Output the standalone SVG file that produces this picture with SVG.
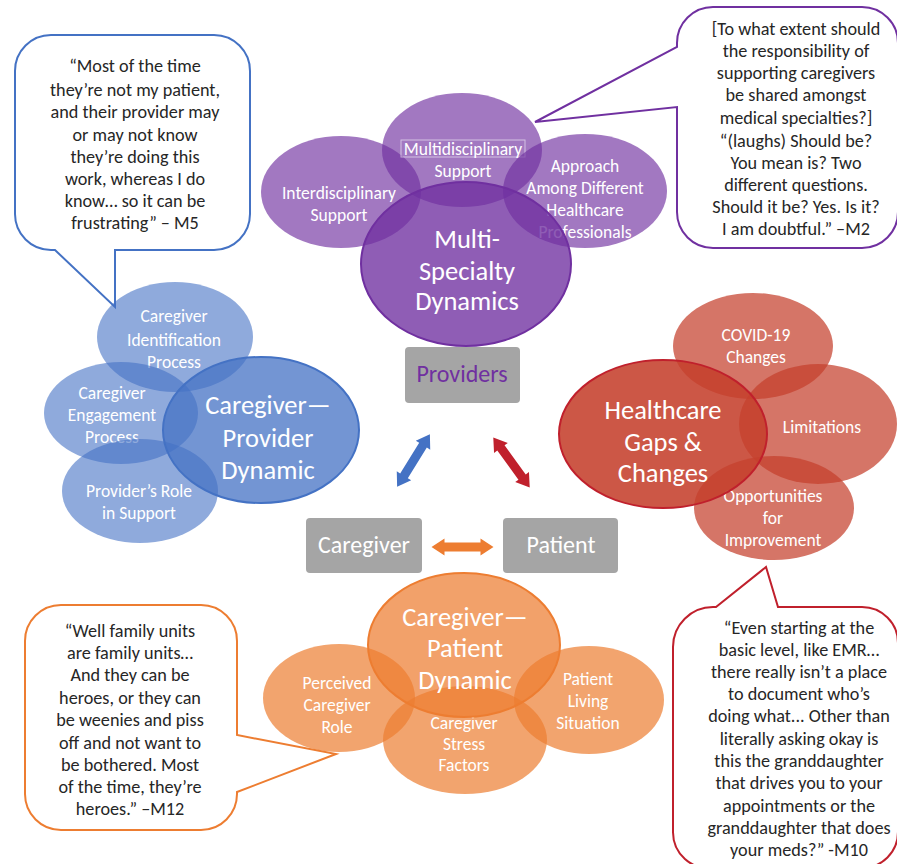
<svg xmlns="http://www.w3.org/2000/svg" width="897" height="864" viewBox="0 0 897 864">
<style>
text{font-family:"Carlito","Lato","Liberation Sans",sans-serif;text-anchor:middle}
.q{font-size:18.2px;fill:#262626}
.s{font-size:17.5px;fill:#fff}
.m{font-size:26.5px;fill:#fff}
.b{font-size:24px;fill:#fff}
.cb{fill:#fff;stroke-width:2;stroke-linejoin:miter}
.pu{fill:#7030A0;fill-opacity:.65}
.pum{fill:#7030A0;fill-opacity:.78;stroke:#7030A0;stroke-width:2}
.bl{fill:#4472C4;fill-opacity:.6}
.blm{fill:#4472C4;fill-opacity:.75;stroke:#4472C4;stroke-width:2}
.rd{fill:#C5402C;fill-opacity:.72}
.rdm{fill:#C5402C;fill-opacity:.88;stroke:#C0202C;stroke-width:2}
.or{fill:#ED7D31;fill-opacity:.7}
.orm{fill:#ED7D31;fill-opacity:.72;stroke:#ED7D31;stroke-width:2}
.box{fill:#A5A5A5}
</style>
<defs>
<polygon id="dbl" points="-31,0 -18,-8.5 -18,-4.5 18,-4.5 18,-8.5 31,0 18,8.5 18,4.5 -18,4.5 -18,8.5"/>
</defs>

<g id="callout-m5">
<path class="cb" stroke="#4472C4" d="M51,35 H214 A36,36 0 0 1 250,71 V214 A36,36 0 0 1 214,250 H115 L115,307 L55,250 H51 A36,36 0 0 1 15,214 V71 A36,36 0 0 1 51,35 Z"/>
<text class="q" x="135" y="72">“Most of the time</text>
<text class="q" x="135" y="96">they’re not my patient,</text>
<text class="q" x="135" y="118">and their provider may</text>
<text class="q" x="135" y="141">or may not know</text>
<text class="q" x="135" y="163">they’re doing this</text>
<text class="q" x="135" y="185">work, whereas I do</text>
<text class="q" x="135" y="207">know… so it can be</text>
<text class="q" x="135" y="229">frustrating” – M5</text>
</g>

<g id="callout-m2">
<path class="cb" stroke="#7030A0" d="M713,7 H862 A36,36 0 0 1 898,43 V212 A36,36 0 0 1 862,248 H713 A36,36 0 0 1 677,212 V107 L535,122 L677,47 V43 A36,36 0 0 1 713,7 Z"/>
<text class="q" x="796" y="35">[To what extent should</text>
<text class="q" x="796" y="57">the responsibility of</text>
<text class="q" x="796" y="79">supporting caregivers</text>
<text class="q" x="796" y="101">be shared amongst</text>
<text class="q" x="796" y="124">medical specialties?]</text>
<text class="q" x="796" y="147">“(laughs) Should be?</text>
<text class="q" x="796" y="169">You mean is? Two</text>
<text class="q" x="796" y="191">different questions.</text>
<text class="q" x="796" y="213">Should it be? Yes. Is it?</text>
<text class="q" x="796" y="235">I am doubtful.” –M2</text>
</g>

<g id="callout-m12">
<path class="cb" stroke="#ED7D31" d="M61,605 H201 A36,36 0 0 1 237,641 V735 L336,754 L237,792 V794 A36,36 0 0 1 201,830 H61 A36,36 0 0 1 25,794 V641 A36,36 0 0 1 61,605 Z"/>
<text class="q" x="130" y="637">“Well family units</text>
<text class="q" x="130" y="659">are family units…</text>
<text class="q" x="130" y="681">And they can be</text>
<text class="q" x="130" y="704">heroes, or they can</text>
<text class="q" x="130" y="726">be weenies and piss</text>
<text class="q" x="130" y="749">off and not want to</text>
<text class="q" x="130" y="771">be bothered. Most</text>
<text class="q" x="130" y="793">of the time, they’re</text>
<text class="q" x="130" y="815">heroes.” –M12</text>
</g>

<g id="callout-m10">
<path class="cb" stroke="#C0202C" d="M713,607 H716 L766,567 L778,607 H862 A36,36 0 0 1 898,643 V832 A36,36 0 0 1 862,868 H713 A36,36 0 0 1 673,832 V647 A40,40 0 0 1 713,607 Z"/>
<text class="q" x="799" y="634">“Even starting at the</text>
<text class="q" x="799" y="656">basic level, like EMR…</text>
<text class="q" x="799" y="678">there really isn’t a place</text>
<text class="q" x="799" y="700">to document who’s</text>
<text class="q" x="799" y="722">doing what... Other than</text>
<text class="q" x="799" y="745">literally asking okay is</text>
<text class="q" x="799" y="767">this the granddaughter</text>
<text class="q" x="799" y="789">that drives you to your</text>
<text class="q" x="799" y="812">appointments or the</text>
<text class="q" x="799" y="834">granddaughter that does</text>
<text class="q" x="799" y="856">your meds?” -M10</text>
</g>

<g id="interdisciplinary-support">
<ellipse class="pu" cx="341" cy="192" rx="80" ry="56"/>
<text class="s" x="339" y="199">Interdisciplinary</text>
<text class="s" x="339" y="221">Support</text>
</g>
<g id="multidisciplinary-support">
<ellipse class="pu" cx="462" cy="150" rx="80" ry="57"/>
<rect x="401" y="140" width="124" height="17" fill="none" stroke="#fff" stroke-opacity=".55" stroke-width="1"/>
<text class="s" x="463" y="155">Multidisciplinary</text>
<text class="s" x="463" y="177">Support</text>
</g>
<g id="approach-among-professionals">
<ellipse class="pu" cx="585" cy="191" rx="82" ry="57"/>
<text class="s" x="585" y="172">Approach</text>
<text class="s" x="585" y="194">Among Different</text>
<text class="s" x="585" y="216">Healthcare</text>
<text class="s" x="585" y="238">Professionals</text>
</g>
<g id="multi-specialty-dynamics">
<ellipse class="pum" cx="466" cy="264" rx="105" ry="82"/>
<text class="m" x="467" y="248">Multi-</text>
<text class="m" x="467" y="280">Specialty</text>
<text class="m" x="467" y="310">Dynamics</text>
</g>

<g id="caregiver-identification-process">
<ellipse class="bl" cx="175" cy="337" rx="78" ry="55"/>
<text class="s" x="174" y="322">Caregiver</text>
<text class="s" x="174" y="346">Identification</text>
<text class="s" x="174" y="368">Process</text>
</g>
<g id="caregiver-engagement-process">
<ellipse class="bl" cx="121" cy="413" rx="77" ry="51"/>
<text class="s" x="112" y="399">Caregiver</text>
<text class="s" x="112" y="421">Engagement</text>
<text class="s" x="112" y="443">Process</text>
</g>
<g id="providers-role-in-support">
<ellipse class="bl" cx="140" cy="491" rx="78" ry="52"/>
<text class="s" x="139" y="497">Provider’s Role</text>
<text class="s" x="139" y="519">in Support</text>
</g>
<g id="caregiver-provider-dynamic">
<ellipse class="blm" cx="261" cy="430" rx="98" ry="73"/>
<text class="m" x="268" y="414">Caregiver—</text>
<text class="m" x="268" y="447">Provider</text>
<text class="m" x="268" y="479">Dynamic</text>
</g>

<g id="covid-19-changes">
<ellipse class="rd" cx="753" cy="346" rx="80" ry="53"/>
<text class="s" x="756" y="341">COVID-19</text>
<text class="s" x="756" y="363">Changes</text>
</g>
<g id="limitations">
<ellipse class="rd" cx="818" cy="424" rx="79" ry="60"/>
<text class="s" x="822" y="433">Limitations</text>
</g>
<g id="opportunities-for-improvement">
<ellipse class="rd" cx="774" cy="508" rx="80" ry="52"/>
<text class="s" x="773" y="502">Opportunities</text>
<text class="s" x="773" y="524">for</text>
<text class="s" x="773" y="546">Improvement</text>
</g>
<g id="healthcare-gaps-changes">
<ellipse class="rdm" cx="663" cy="434" rx="104" ry="74"/>
<text class="m" x="663" y="419">Healthcare</text>
<text class="m" x="663" y="451">Gaps &amp;</text>
<text class="m" x="663" y="482">Changes</text>
</g>

<g id="perceived-caregiver-role">
<ellipse class="or" cx="339" cy="698" rx="76" ry="54"/>
<text class="s" x="337" y="689">Perceived</text>
<text class="s" x="337" y="711">Caregiver</text>
<text class="s" x="337" y="733">Role</text>
</g>
<g id="caregiver-stress-factors">
<ellipse class="or" cx="465" cy="740" rx="82" ry="54"/>
<text class="s" x="464" y="729">Caregiver</text>
<text class="s" x="464" y="750">Stress</text>
<text class="s" x="464" y="771">Factors</text>
</g>
<g id="patient-living-situation">
<ellipse class="or" cx="589" cy="700" rx="75" ry="54"/>
<text class="s" x="588" y="685">Patient</text>
<text class="s" x="588" y="707">Living</text>
<text class="s" x="588" y="729">Situation</text>
</g>
<g id="caregiver-patient-dynamic">
<ellipse class="orm" cx="464" cy="645" rx="96" ry="72"/>
<text class="m" x="465" y="626">Caregiver—</text>
<text class="m" x="465" y="657">Patient</text>
<text class="m" x="465" y="689">Dynamic</text>
</g>

<g id="providers">
<rect class="box" x="405" y="347" width="115" height="56" rx="4"/>
<text class="b" x="462" y="382" style="fill:#7030A0">Providers</text>
</g>
<g id="caregiver">
<rect class="box" x="306" y="518" width="116" height="55" rx="4"/>
<text class="b" x="364" y="553">Caregiver</text>
</g>
<g id="patient">
<rect class="box" x="503" y="518" width="115" height="55" rx="4"/>
<text class="b" x="561" y="553">Patient</text>
</g>

<g id="connectors">
<use href="#dbl" fill="#4472C4" transform="translate(413.5,460.5) rotate(-58.1)"/>
<use href="#dbl" fill="#C0202C" transform="translate(511.5,462.5) rotate(54)"/>
<use href="#dbl" fill="#ED7D31" transform="translate(462.5,547)"/>
</g>
</svg>
